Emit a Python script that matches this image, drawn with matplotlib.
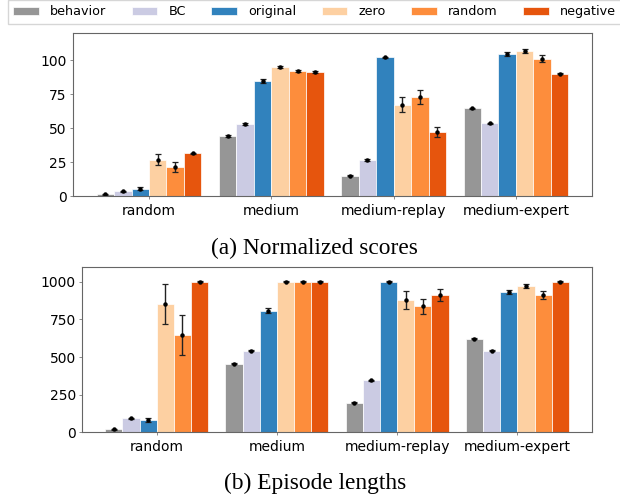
import numpy as np
import matplotlib
matplotlib.use("Agg")
import matplotlib.pyplot as plt
from matplotlib.ticker import MultipleLocator

datasets = ["random", "medium", "medium-replay", "medium-expert"]
methods = ["behavior", "BC", "original", "zero", "random", "negative"]
colors = ["#969696", "#cbcbe3", "#3182bd", "#fdd0a2", "#fd8d3c", "#e6550d"]

# Normalized scores (rows: methods, cols: datasets)
score_behavior = [1.3, 44.2, 14.9, 64.6]
score_bc = [3.4, 53.0, 26.4, 53.5]
score_original = [5.5, 85.0, 102.0, 104.4]
score_zero = [26.8, 95.1, 67.3, 106.9]
score_random = [21.4, 92.2, 72.9, 101.0]
score_negative = [31.5, 91.2, 46.9, 90.0]

score_err_behavior = [0.4, 0.5, 0.4, 0.4]
score_err_bc = [0.5, 0.4, 0.5, 0.4]
score_err_original = [0.8, 1.5, 0.6, 1.4]
score_err_zero = [3.8, 0.6, 5.4, 1.5]
score_err_random = [3.8, 0.6, 5.2, 2.5]
score_err_negative = [0.5, 0.6, 3.7, 0.4]

# Episode lengths
len_behavior = [19, 456, 196, 621]
len_bc = [93, 541, 345, 543]
len_original = [80, 809, 1000, 931]
len_zero = [853, 1000, 878, 971]
len_random = [647, 1000, 836, 913]
len_negative = [1000, 1000, 911, 1000]

len_err_behavior = [4, 4, 4, 4]
len_err_bc = [5, 4, 5, 4]
len_err_original = [12, 14, 4, 12]
len_err_zero = [133, 3, 62, 12]
len_err_random = [131, 3, 49, 25]
len_err_negative = [3, 3, 40, 3]

scores = [score_behavior, score_bc, score_original, score_zero, score_random, score_negative]
score_errs = [score_err_behavior, score_err_bc, score_err_original,
              score_err_zero, score_err_random, score_err_negative]
lengths = [len_behavior, len_bc, len_original, len_zero, len_random, len_negative]
length_errs = [len_err_behavior, len_err_bc, len_err_original,
               len_err_zero, len_err_random, len_err_negative]

fig = plt.figure(figsize=(6.2, 4.96), dpi=100)
ax_a = fig.add_axes([0.1177, 0.6048, 0.8371, 0.3286])
ax_b = fig.add_axes([0.1323, 0.1284, 0.8226, 0.3339])

n = len(methods)
width = 1.0 / (n + 1)
x = np.arange(len(datasets))


def draw(ax, values, errs, ymax, step):
    for i, (vals, err, c, name) in enumerate(zip(values, errs, colors, methods)):
        pos = x + (i - (n - 1) / 2) * width
        ax.bar(pos, vals, width, color=c, edgecolor="white", linewidth=0.5, label=name)
        ax.errorbar(pos, vals, yerr=err, fmt="o", color="black", ecolor="#222222",
                    markersize=2.2, elinewidth=1.0, capsize=2.2, capthick=0.9)
    ax.set_ylim(0, ymax)
    ax.yaxis.set_major_locator(MultipleLocator(step))
    ax.set_xticks(x)
    ax.set_xticklabels(datasets)
    for s in ax.spines.values():
        s.set_color("#666666")
    ax.tick_params(axis="both", labelsize=10, length=2.5, pad=2, color="#777777",
                   width=0.6)
    ax.tick_params(axis="x", pad=3)


draw(ax_a, scores, score_errs, 120, 25)
draw(ax_b, lengths, length_errs, 1100, 250)

handles, labels = ax_a.get_legend_handles_labels()
fig.legend(handles, labels, loc="upper center", bbox_to_anchor=(0.5075, 1.012),
           ncol=6, fontsize=9.15, frameon=True, fancybox=False, edgecolor="#cccccc",
           handlelength=2.0, handletextpad=0.9, columnspacing=2.0, borderpad=0.4)

fig.text(0.507, 1 - 248 / 496, "(a) Normalized scores", ha="center", va="center",
         family="Liberation Serif", fontsize=16.8)
fig.text(0.508, 1 - 483 / 496, "(b) Episode lengths", ha="center", va="center",
         family="Liberation Serif", fontsize=16.8)

fig.savefig("out.png", dpi=100)
